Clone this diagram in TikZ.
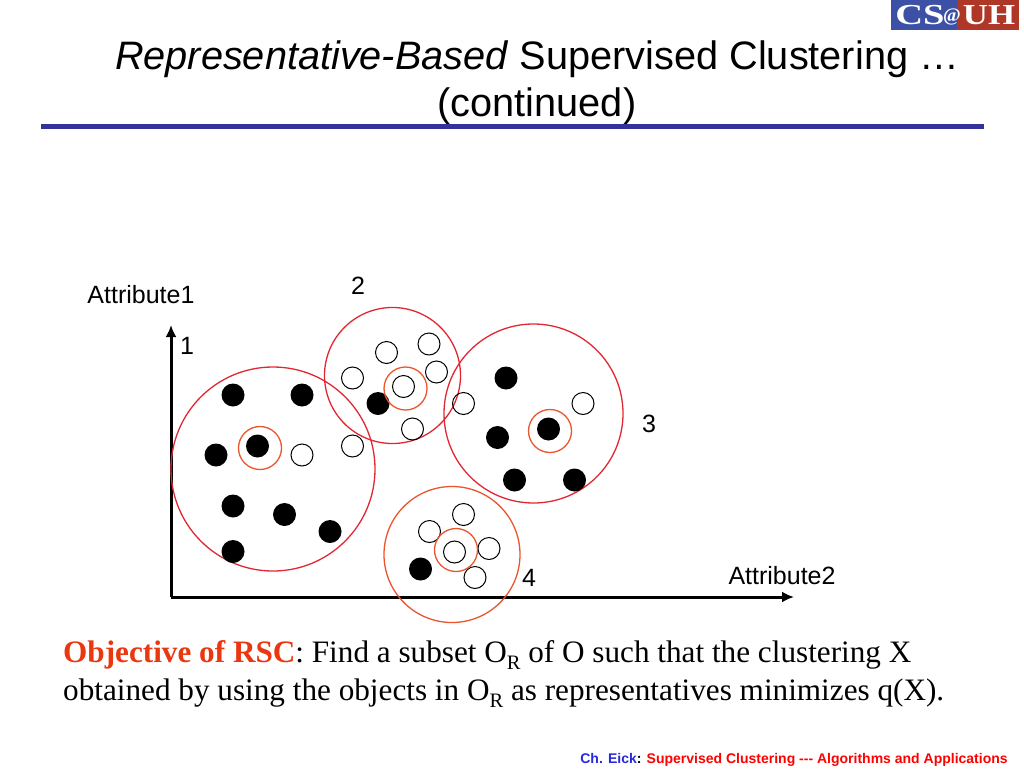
\documentclass[tikz,border=0pt]{standalone}
\usepackage{fontspec}
\setmainfont{Liberation Serif}
\newfontfamily\arialfont{Liberation Sans}
\definecolor{rulecol}{RGB}{51,51,153}
\definecolor{clustercol}{RGB}{225,40,50}
\definecolor{repcol}{RGB}{235,85,45}
\definecolor{objcol}{RGB}{235,55,15}
\definecolor{logoblue}{RGB}{60,80,165}
\definecolor{logored}{RGB}{175,55,40}
\definecolor{footblue}{RGB}{40,40,220}
\newcommand{\subr}{\raisebox{-7pt}{\fontsize{20.5}{20}\selectfont R}}
\tikzset{
  titletext/.style={font=\arialfont\fontsize{39.7}{47}\selectfont, inner sep=0pt, align=center},
  plotlabel/.style={font=\arialfont\fontsize{25}{29}\selectfont, inner sep=0pt},
  bodytext/.style={font=\fontsize{31.2}{38}\selectfont, inner sep=0pt, anchor=base west},
  foottext/.style={font=\arialfont\bfseries\fontsize{14}{16}\selectfont, inner sep=0pt},
  logotext/.style={font=\bfseries\fontsize{29}{29}\selectfont, text=white, inner sep=0pt},
  blackdot/.style={circle, fill=black, inner sep=0pt, minimum size=23pt},
  whitedot/.style={circle, draw=black, line width=1pt, inner sep=0pt, minimum size=22pt},
  clusterring/.style={circle, draw=clustercol, line width=1.3pt, inner sep=0pt},
  repring/.style={circle, draw=repcol, line width=1.3pt, inner sep=0pt, minimum size=43pt},
  axisline/.style={line width=3pt, -{Latex[length=12pt,width=11pt]}}
}
\usetikzlibrary{arrows.meta}
\begin{document}
\begin{tikzpicture}[x=1pt, y=-1pt]
  \useasboundingbox (0,0) rectangle (1024,768);
  %logo
  \fill[logoblue] (891,0) rectangle (957,30);
  \fill[logored] (957,0) rectangle (1019,30);
  \node[logotext] (logocs) at (920,15) {\scalebox{1.33}[1]{CS}};
  \node[logotext, font=\bfseries\fontsize{19}{19}\selectfont] (logoat) at (952,17) {@};
  \node[logotext] (logouh) at (989,15) {\scalebox{1.2}[1]{UH}};
  %titolo
  \node[titletext] (title) at (537,82.5) {\textit{Representative-Based} Supervised Clustering …\\(continued)};
  \fill[rulecol] (41,124) rectangle (984,128.5);
  %assi
  \coordinate (origin) at (171,597);
  \coordinate (ytop) at (171,325);
  \coordinate (xend) at (794,597);
  \draw[axisline] (origin) -- (ytop);
  \draw[axisline] (origin) -- (xend);
  \node[plotlabel] (attr1) at (141,295) {Attribute1};
  \node[plotlabel] (attr2) at (782,576) {Attribute2};
  %cluster
  \node[clusterring, minimum size=204pt] (c1) at (273,469) {};
  \node[clusterring, minimum size=136pt] (c2) at (392.5,375.5) {};
  \node[clusterring, minimum size=179pt] (c3) at (533.5,413.5) {};
  \node[clusterring, minimum size=136pt, draw=repcol] (c4) at (452,554.5) {};
  \node[plotlabel] (n1) at (187,346) {1};
  \node[plotlabel] (n2) at (358,286) {2};
  \node[plotlabel] (n3) at (649,424) {3};
  \node[plotlabel] (n4) at (529,578) {4};
  %pieni
  \node[blackdot] (b1) at (233,395) {};
  \node[blackdot] (b2) at (302,395) {};
  \node[blackdot] (b3) at (257.5,446) {};
  \node[blackdot] (b4) at (216,455) {};
  \node[blackdot] (b5) at (233,506) {};
  \node[blackdot] (b6) at (284.5,514.5) {};
  \node[blackdot] (b7) at (330,531.5) {};
  \node[blackdot] (b8) at (233,551.5) {};
  \node[blackdot] (b9) at (378,403.5) {};
  \node[blackdot] (b10) at (420.5,569) {};
  \node[blackdot] (b11) at (506,378) {};
  \node[blackdot] (b12) at (497.5,437.5) {};
  \node[blackdot] (b13) at (548.5,429) {};
  \node[blackdot] (b14) at (514.5,480) {};
  \node[blackdot] (b15) at (574.5,480) {};
  %vuoti
  \node[whitedot] (w1) at (386.5,352.5) {};
  \node[whitedot] (w2) at (429,344) {};
  \node[whitedot] (w3) at (436.5,372) {};
  \node[whitedot] (w4) at (352.5,378) {};
  \node[whitedot] (w5) at (403.5,386.5) {};
  \node[whitedot] (w6) at (463.5,403.5) {};
  \node[whitedot] (w7) at (412.5,429) {};
  \node[whitedot] (w8) at (352.5,446) {};
  \node[whitedot] (w9) at (302,455) {};
  \node[whitedot] (w10) at (583,403.5) {};
  \node[whitedot] (w11) at (463.5,514.5) {};
  \node[whitedot] (w12) at (429.5,531.5) {};
  \node[whitedot] (w13) at (489,548.5) {};
  \node[whitedot] (w14) at (454.5,552) {};
  \node[whitedot] (w15) at (475,577.5) {};
  %rappresentanti
  \node[repring] (r1) at (260,448) {};
  \node[repring] (r2) at (405.5,388.5) {};
  \node[repring] (r3) at (550,431) {};
  \node[repring] (r4) at (456,550) {};
  %testo
  \node[bodytext] (obj1) at (63,662) {\textcolor{objcol}{\textbf{Objective of RSC}}: Find a subset O\subr{} of O such that the clustering X};
  \node[bodytext] (obj2) at (63,700) {obtained by using the objects in O\subr{} as representatives minimizes q(X).};
  \node[foottext] (foot) at (794,760) {\textcolor{footblue}{Ch. Eick}: \textcolor{red}{Supervised Clustering --{}- Algorithms and Applications}};
\end{tikzpicture}
\end{document}
